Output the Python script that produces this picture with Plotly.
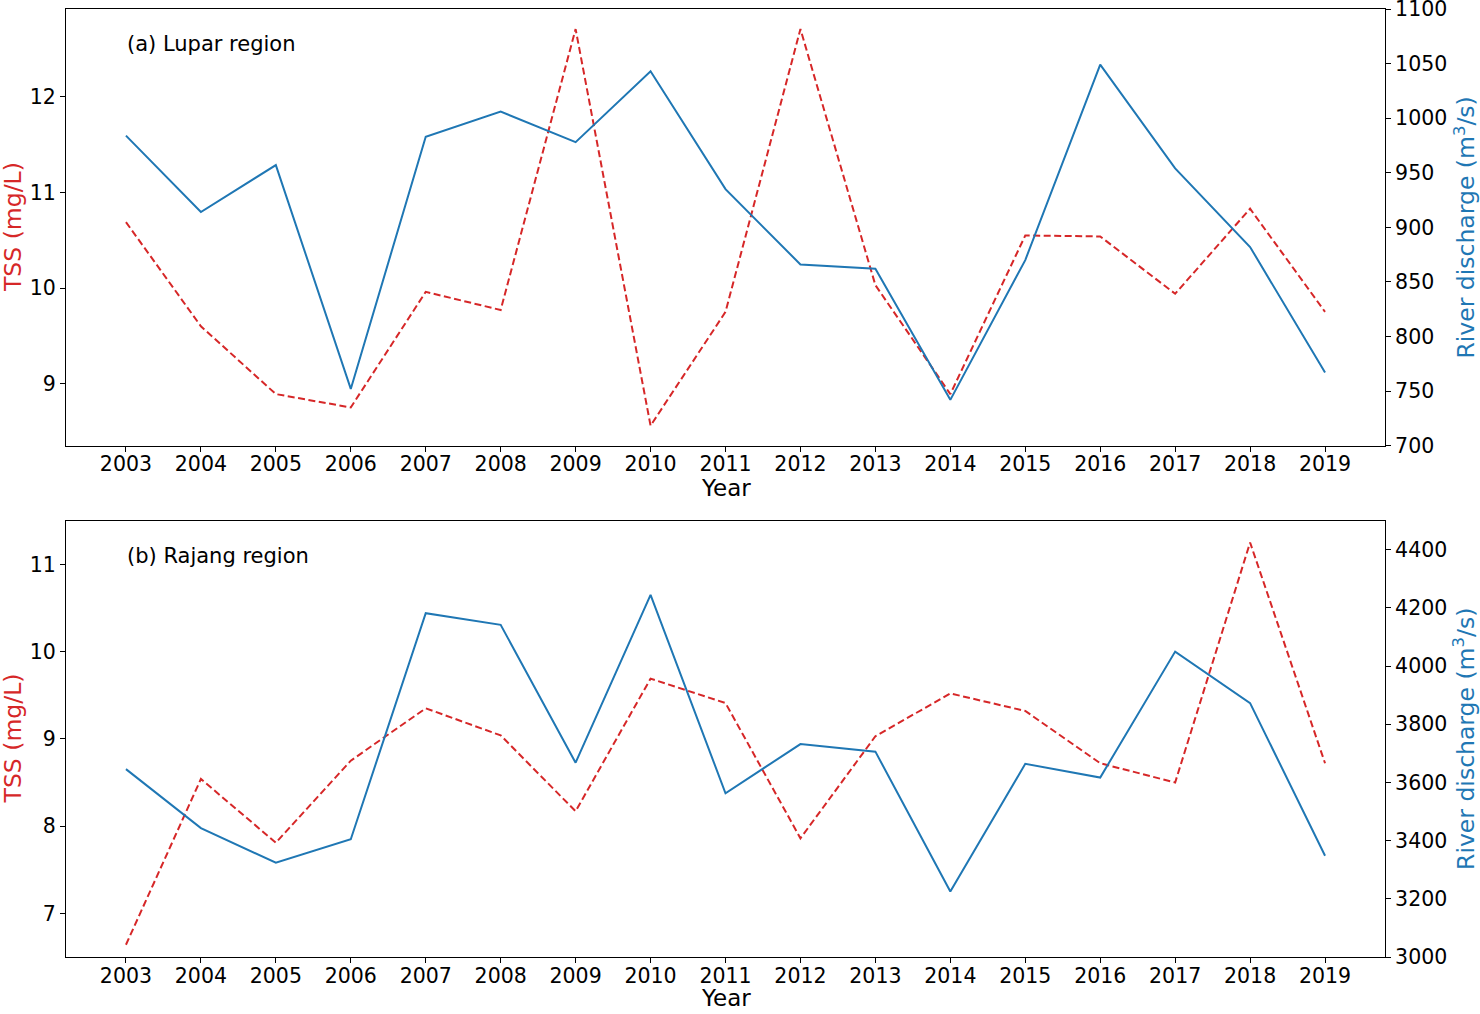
import plotly.graph_objects as go

years = list(range(2003, 2020))

# (a) Lupar region
lupar_tss = [10.69, 9.60, 8.89, 8.75, 9.96, 9.77, 12.71, 8.56, 9.75, 12.71,
             10.03, 8.89, 10.55, 10.54, 9.94, 10.83, 9.75]
lupar_q = [984, 914, 957, 752, 983, 1006, 978, 1043, 935, 866,
           862, 742, 870, 1049, 954, 882, 767]

# (b) Rajang region
rajang_tss = [6.64, 8.54, 7.81, 8.75, 9.35, 9.04, 8.17, 9.69, 9.41, 7.86,
              9.03, 9.52, 9.32, 8.72, 8.50, 11.25, 8.72]
rajang_q = [3646, 3443, 3324, 3405, 4182, 4142, 3668, 4245, 3563, 3732,
            3706, 3225, 3664, 3617, 4050, 3873, 3348]

panel_labels = ["(a) Lupar region", "(b) Rajang region"]
tss_title = "TSS (mg/L)"
q_title = "River discharge (m<sup>3</sup>/s)"
x_title = "Year"

RED = "#d62728"
BLUE = "#1f77b4"
FONT = "DejaVu Sans"
TICK_SIZE = 20.5
TITLE_SIZE = 23.5

W, H = 1480, 1014
ML, MR, MT, MB = 66, 95, 9, 57
PW, PH = W - ML - MR, H - MT - MB


def px_x(p):
    return (p - ML) / PW


def px_y(p):
    return 1 - (p - MT) / PH


fig = go.Figure()

# top panel traces
fig.add_trace(go.Scatter(x=years, y=lupar_tss, mode="lines", xaxis="x", yaxis="y",
                         line=dict(color=RED, width=2, dash="7px,3.5px"), showlegend=False))
fig.add_trace(go.Scatter(x=years, y=lupar_q, mode="lines", xaxis="x", yaxis="y2",
                         line=dict(color=BLUE, width=2), showlegend=False))
# bottom panel traces
fig.add_trace(go.Scatter(x=years, y=rajang_tss, mode="lines", xaxis="x2", yaxis="y3",
                         line=dict(color=RED, width=2, dash="7px,3.5px"), showlegend=False))
fig.add_trace(go.Scatter(x=years, y=rajang_q, mode="lines", xaxis="x2", yaxis="y4",
                         line=dict(color=BLUE, width=2), showlegend=False))

top_dom = [px_y(445.7), 1.0]
bot_dom = [0.0, px_y(520.7)]

common_x = dict(range=[2002.2, 2019.8], tickmode="array", tickvals=years,
                ticktext=[str(y) for y in years], showline=True, linecolor="black",
                linewidth=1, mirror=True, ticks="outside", ticklen=5, tickwidth=1,
                tickcolor="black", showgrid=False, zeroline=False, automargin=False,
                ticklabelstandoff=-5, ticklabeloverflow="allow",
                tickfont=dict(family=FONT, size=TICK_SIZE, color="black"))
common_y = dict(showline=True, linecolor="black", linewidth=1, ticks="outside",
                ticklen=5, tickwidth=1, tickcolor="black", showgrid=False,
                zeroline=False, ticklabeloverflow="allow", automargin=False,
                tickfont=dict(family=FONT, size=TICK_SIZE, color="black"))

fig.update_layout(
    width=W, height=H,
    margin=dict(l=ML, r=MR, t=MT, b=MB, autoexpand=False),
    paper_bgcolor="white", plot_bgcolor="white",
    font=dict(family=FONT, size=20, color="black"),
    xaxis=dict(domain=[0, 1], anchor="y", **common_x),
    yaxis=dict(domain=top_dom, anchor="x", range=[8.35, 12.92],
               tickvals=[9, 10, 11, 12], side="left", **common_y),
    yaxis2=dict(domain=top_dom, anchor="x", overlaying="y", side="right",
                range=[700, 1100], tickvals=list(range(700, 1101, 50)), **common_y),
    xaxis2=dict(domain=[0, 1], anchor="y3", **common_x),
    yaxis3=dict(domain=bot_dom, anchor="x2", range=[6.5, 11.5],
                tickvals=[7, 8, 9, 10, 11], side="left", **common_y),
    yaxis4=dict(domain=bot_dom, anchor="x2", overlaying="y3", side="right",
                range=[3000, 4500], tickvals=list(range(3000, 4401, 200)), **common_y),
)

ann = []
# panel labels
ann.append(dict(text=panel_labels[0], xref="x domain", yref="y domain", x=0.045, y=0.92,
                xanchor="left", yanchor="middle", showarrow=False,
                font=dict(family=FONT, size=21, color="black")))
ann.append(dict(text=panel_labels[1], xref="x2 domain", yref="y3 domain", x=0.045, y=0.92,
                xanchor="left", yanchor="middle", showarrow=False,
                font=dict(family=FONT, size=21, color="black")))

for yc, yx in [(227.5, 488), (738.9, 998)]:
    ann.append(dict(text=tss_title, xref="paper", yref="paper", x=px_x(12.5), y=px_y(yc),
                    xanchor="center", yanchor="middle", textangle=-90, showarrow=False,
                    font=dict(family=FONT, size=TITLE_SIZE, color=RED)))
    ann.append(dict(text=q_title, xref="paper", yref="paper", x=px_x(1465), y=px_y(yc),
                    xanchor="center", yanchor="middle", textangle=-90, showarrow=False,
                    font=dict(family=FONT, size=TITLE_SIZE, color=BLUE)))
    ann.append(dict(text=x_title, xref="paper", yref="paper", x=px_x(725.5), y=px_y(yx),
                    xanchor="center", yanchor="middle", showarrow=False,
                    font=dict(family=FONT, size=23, color="black")))

fig.update_layout(annotations=ann)

fig.write_html("out.html", config={"displayModeBar": False},
               post_script="document.body.style.margin='0';document.body.style.padding='0';")
